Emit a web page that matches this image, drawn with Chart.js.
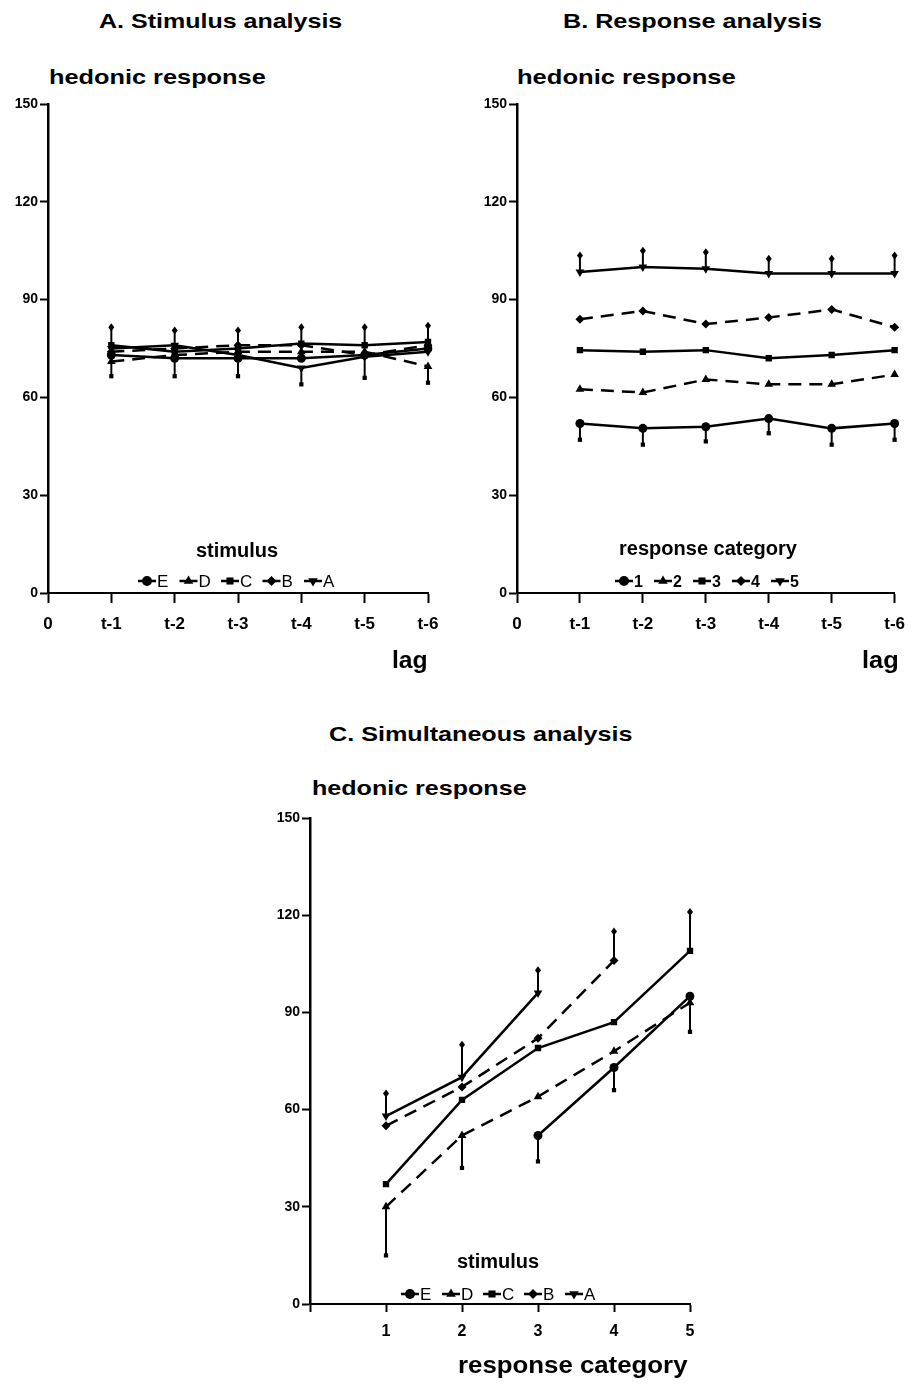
<!DOCTYPE html>
<html>
<head>
<meta charset="utf-8">
<script src="https://cdn.jsdelivr.net/npm/chart.js@4.4.1/dist/chart.umd.min.js"></script>
<style>
  body { margin: 0; background: #fff; }
  #page { position: relative; width: 916px; height: 1393px; overflow: hidden; background: #fff; }
  .box { position: absolute; }
  .txt { position: absolute; white-space: nowrap; line-height: 1; font-family: 'Liberation Sans', Arial, sans-serif; font-weight: bold; color: #000; transform-origin: 0 0; }
</style>
</head>
<body>
<div id="page">
  <div class="box" style="left:0;top:90px;width:450px;height:560px"><canvas id="chartA"></canvas></div>
  <div class="box" style="left:469px;top:90px;width:447px;height:560px"><canvas id="chartB"></canvas></div>
  <div class="box" style="left:262px;top:804px;width:450px;height:560px"><canvas id="chartC"></canvas></div>
</div>
<script>
// A. stimulus analysis: hedonic response by lag, one line per stimulus
const lagLabels = ['0', 't-1', 't-2', 't-3', 't-4', 't-5', 't-6'];
const stimulusKeys = ['E', 'D', 'C', 'B', 'A'];
const lagE = [73, 72, 72, 72, 73, 75];
const lagD = [71, 73, 74, 74, 74, 69.5];
const lagC = [76, 74, 75, 76.5, 76, 77];
const lagB = [74, 75, 76, 76, 73, 76];
const lagA = [75, 76, 73, 69, 72.5, 74];
const lagStimUpper = [81.5, 80.5, 80.5, 81.5, 81.5, 82];
const lagStimLower = [66.5, 66.5, 66.5, 64, 66, 64.5];

// B. response analysis: one line per response category
const categoryKeys = ['1', '2', '3', '4', '5'];
const lagCat1 = [52, 50.5, 51, 53.5, 50.5, 52];
const lagCat2 = [62.5, 61.5, 65.5, 64, 64, 67];
const lagCat3 = [74.5, 74, 74.5, 72, 73, 74.5];
const lagCat4 = [84, 86.5, 82.5, 84.5, 87, 81.5];
const lagCat5 = [98.5, 100, 99.5, 98, 98, 98];
const lagCatUpper = [103.5, 105, 104.5, 102.5, 102.5, 103.5];
const lagCatLower = [47, 45.5, 46.5, 49, 45.5, 47];

// C. simultaneous analysis: response category on x, one line per stimulus
const categoryLabels = ['', '1', '2', '3', '4', '5'];
const catE = [null, null, 52, 73, 95];
const catD = [30, 52, 64, 78, 93];
const catC = [37, 63, 79, 87, 109];
const catB = [55, 67, 82, 106, null];
const catA = [58, 70, 96, null, null];
const catUpper = [65, 80, 103, 115, 121];
const catLower = [15, 42, 44, 66, 84];

const yTicks = [0, 30, 60, 90, 120, 150];

const seriesStyles = [
  { pointStyle: 'circle', pointRadius: 4.5, rotation: 0, dash: [] },
  { pointStyle: 'triangle', pointRadius: 5, rotation: 0, dash: [13, 8] },
  { pointStyle: 'rect', pointRadius: 4.5, rotation: 0, dash: [] },
  { pointStyle: 'rectRot', pointRadius: 4.5, rotation: 0, dash: [13, 8] },
  { pointStyle: 'triangle', pointRadius: 5, rotation: 180, dash: [] },
];

Chart.defaults.font.family = "'Liberation Sans', Arial, sans-serif";
Chart.defaults.color = '#000';

function drawMarker(ctx, style, r, rot, x, y) {
  ctx.save();
  ctx.translate(x, y);
  ctx.rotate(rot * Math.PI / 180);
  ctx.beginPath();
  if (style === 'circle') {
    ctx.arc(0, 0, r, 0, Math.PI * 2);
  } else if (style === 'triangle') {
    ctx.moveTo(0, -r);
    ctx.lineTo(r * 0.87, r * 0.5);
    ctx.lineTo(-r * 0.87, r * 0.5);
    ctx.closePath();
  } else if (style === 'rect') {
    const s = r * Math.SQRT1_2;
    ctx.rect(-s, -s, 2 * s, 2 * s);
  } else if (style === 'capDiamond') {
    ctx.moveTo(0, -r);
    ctx.lineTo(r * 0.75, 0);
    ctx.lineTo(0, r);
    ctx.lineTo(-r * 0.75, 0);
    ctx.closePath();
  } else {
    ctx.moveTo(0, -r);
    ctx.lineTo(r, 0);
    ctx.lineTo(0, r);
    ctx.lineTo(-r, 0);
    ctx.closePath();
  }
  ctx.fillStyle = '#000';
  ctx.fill();
  ctx.restore();
}

// spread bars: from the highest point up to the upper cap, lowest point down to the lower cap
const errorBars = {
  id: 'errorBars',
  beforeDatasetsDraw(chart, args, opts) {
    const { ctx, scales: { x, y } } = chart;
    ctx.save();
    ctx.strokeStyle = '#000';
    ctx.lineWidth = 2;
    const valuesAt = i => chart.data.datasets.map(d => d.data[i]).filter(v => v != null);
    opts.upper.forEach((cap, i) => {
      if (cap == null) return;
      const vals = valuesAt(i);
      const px = x.getPixelForValue(i);
      const from = y.getPixelForValue(Math.max(...vals));
      const to = y.getPixelForValue(cap);
      ctx.beginPath(); ctx.moveTo(px, from); ctx.lineTo(px, to); ctx.stroke();
      drawMarker(ctx, 'capDiamond', 4, 0, px, to);
    });
    opts.lower.forEach((cap, i) => {
      if (cap == null) return;
      const vals = valuesAt(i);
      const px = x.getPixelForValue(i);
      const from = y.getPixelForValue(Math.min(...vals));
      const to = y.getPixelForValue(cap);
      ctx.beginPath(); ctx.moveTo(px, from); ctx.lineTo(px, to); ctx.stroke();
      drawMarker(ctx, 'rect', 3, 0, px, to);
    });
    ctx.restore();
  },
};

// legend sitting inside the plot, just above the x axis
const insideLegend = {
  id: 'insideLegend',
  afterDraw(chart, args, opts) {
    const { ctx, chartArea } = chart;
    ctx.save();
    ctx.fillStyle = '#000';
    ctx.font = "bold 20px 'Liberation Sans', Arial, sans-serif";
    ctx.textAlign = 'center';
    ctx.textBaseline = 'alphabetic';
    ctx.fillText(opts.title, chartArea.left + opts.titleX, chartArea.bottom - opts.titleY);
    ctx.font = opts.itemFont;
    ctx.textAlign = 'left';
    const rowY = chartArea.bottom - opts.rowY;
    chart.data.datasets.forEach((ds, i) => {
      const mx = chartArea.left + opts.startX + i * opts.step;
      ctx.strokeStyle = '#000';
      ctx.lineWidth = 2.5;
      ctx.setLineDash([]);
      ctx.beginPath();
      ctx.moveTo(mx - 9, rowY);
      ctx.lineTo(mx + 9, rowY);
      ctx.stroke();
      drawMarker(ctx, ds.pointStyle, ds.pointRadius + 0.5, ds.pointRotation, mx, rowY);
      ctx.fillText(ds.label, mx + 10, rowY + 6);
    });
    ctx.restore();
  },
};

function buildSets(keys, rows) {
  return rows.map((row, i) => {
    const st = seriesStyles[i];
    return {
      label: keys[i],
      data: [null, ...row],
      borderColor: '#000',
      backgroundColor: '#000',
      borderWidth: 2.5,
      borderDash: st.dash,
      pointStyle: st.pointStyle,
      pointRadius: st.pointRadius,
      pointRotation: st.rotation,
      pointBackgroundColor: '#000',
      pointBorderColor: '#000',
      pointBorderWidth: 0,
      tension: 0,
      fill: false,
      spanGaps: false,
    };
  });
}

function makeChart(id, labels, sets, upper, lower, legend, xTick) {
  return new Chart(document.getElementById(id), {
    type: 'line',
    data: { labels, datasets: sets },
    options: {
      responsive: true,
      maintainAspectRatio: false,
      animation: false,
      layout: { padding: { top: 14, right: xTick.padRight, left: 0, bottom: 0 } },
      scales: {
        x: {
          type: 'category',
          offset: false,
          grid: { drawOnChartArea: false, drawTicks: true, tickLength: xTick.tickLength, tickColor: '#000', tickWidth: 2 },
          border: { color: '#000', width: 2 },
          ticks: { color: '#000', autoSkip: false, maxRotation: 0, padding: xTick.padding, font: { size: xTick.size, weight: 'bold' } },
          afterFit(scale) { scale.height = xTick.height; },
        },
        y: {
          min: 0,
          max: 150,
          afterBuildTicks(scale) { scale.ticks = yTicks.map(v => ({ value: v })); },
          grid: { drawOnChartArea: false, drawTicks: true, tickLength: 8, tickColor: '#000', tickWidth: 2 },
          border: { color: '#000', width: 2.5 },
          ticks: { color: '#000', padding: 2, font: { size: 14, weight: 'bold' } },
          afterFit(scale) { scale.width = 48; },
        },
      },
      plugins: {
        legend: { display: false },
        tooltip: { enabled: false },
        errorBars: {
          upper: [null, ...upper],
          lower: [null, ...lower],
        },
        insideLegend: legend,
      },
    },
    plugins: [errorBars, insideLegend],
  });
}

makeChart('chartA', lagLabels,
  buildSets(stimulusKeys, [lagE, lagD, lagC, lagB, lagA]),
  lagStimUpper, lagStimLower,
  { title: 'stimulus', titleX: 189, titleY: 36, rowY: 12, startX: 99, step: 41.5, itemFont: "17px 'Liberation Sans', Arial, sans-serif" },
  { size: 17, padding: 11, tickLength: 10, height: 57, padRight: 22 });

makeChart('chartB', lagLabels,
  buildSets(categoryKeys, [lagCat1, lagCat2, lagCat3, lagCat4, lagCat5]),
  lagCatUpper, lagCatLower,
  { title: 'response category', titleX: 191, titleY: 38, rowY: 12, startX: 107, step: 39, itemFont: "bold 16px 'Liberation Sans', Arial, sans-serif" },
  { size: 17, padding: 11, tickLength: 10, height: 57, padRight: 17 });

makeChart('chartC', categoryLabels,
  buildSets(stimulusKeys, [catE, catD, catC, catB, catA]),
  catUpper, catLower,
  { title: 'stimulus', titleX: 188, titleY: 36, rowY: 10, startX: 100, step: 41, itemFont: "17px 'Liberation Sans', Arial, sans-serif" },
  { size: 16, padding: 10, tickLength: 8, height: 60, padRight: 22 });

// headings and axis names, widened to their boxes
const headings = [
  ['A. Stimulus analysis', 99, 28, 243, 21],
  ['B. Response analysis', 563, 28, 259, 21],
  ['hedonic response', 49, 84, 217, 21],
  ['hedonic response', 517, 84, 219, 21],
  ['lag', 392, 668, 36, 24],
  ['lag', 862, 668, 37, 24],
  ['C. Simultaneous analysis', 329, 741, 303, 21],
  ['hedonic response', 312, 795, 215, 21],
  ['response category', 458, 1373, 230, 23],
];
const page = document.getElementById('page');
headings.forEach(([text, left, baseline, width, size]) => {
  const el = document.createElement('div');
  el.className = 'txt';
  el.textContent = text;
  el.style.fontSize = size + 'px';
  el.style.left = left + 'px';
  el.style.top = (baseline - 0.8465 * size) + 'px';
  page.appendChild(el);
  el.style.transform = 'scaleX(' + (width / el.offsetWidth).toFixed(3) + ')';
});
</script>
</body>
</html>
